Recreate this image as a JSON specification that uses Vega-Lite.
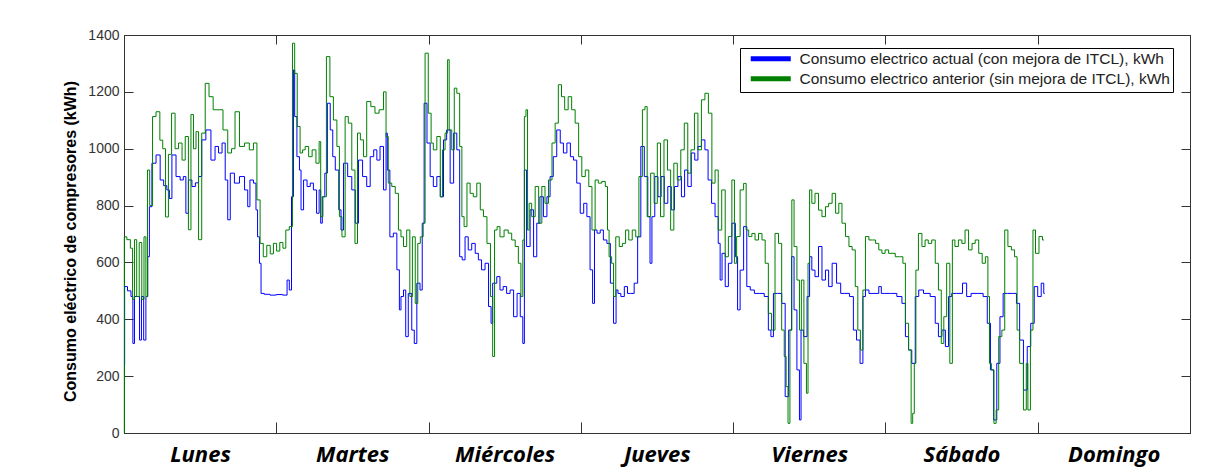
{
  "$schema": "https://vega.github.io/schema/vega-lite/v6.json",
  "autosize": "none",
  "width": 1066,
  "height": 398,
  "padding": {"left": 124, "top": 35, "right": 26, "bottom": 35},
  "background": "white",
  "config": {
    "view": {"stroke": "#333", "strokeWidth": 1},
    "axis": {"domainColor": "#333", "tickColor": "#333", "grid": false}
  },
  "datasets": {
    "actual": [
      {"h":0,"v":240},{"h":0.2,"v":515},{"h":0.9,"v":500},{"h":1.3,"v":480},{"h":1.5,"v":315},{"h":1.8,"v":480},{"h":2.3,"v":480},{"h":2.6,"v":327},{"h":2.9,"v":480},{"h":3.3,"v":327},{"h":3.6,"v":480},{"h":3.9,"v":620},{"h":4.1,"v":796},{"h":4.7,"v":949},{"h":5.4,"v":978},{"h":6.0,"v":890},{"h":6.5,"v":870},{"h":7.0,"v":855},{"h":7.3,"v":825},{"h":7.8,"v":978},{"h":8.6,"v":902},{"h":9.1,"v":890},{"h":9.6,"v":902},{"h":9.9,"v":773},{"h":10.4,"v":890},{"h":11.0,"v":867},{"h":11.5,"v":880},{"h":12.0,"v":902},{"h":12.5,"v":1031},{"h":13.3,"v":1066},{"h":14.1,"v":960},{"h":14.6,"v":1008},{"h":15.2,"v":985},{"h":15.7,"v":1020},{"h":16.2,"v":890},{"h":16.5,"v":750},{"h":17.0,"v":914},{"h":17.8,"v":879},{"h":18.6,"v":902},{"h":19.4,"v":855},{"h":19.6,"v":796},{"h":20.1,"v":890},{"h":20.7,"v":879},{"h":20.9,"v":785},{"h":21.2,"v":690},{"h":21.5,"v":597},{"h":21.7,"v":491},{"h":22.5,"v":488},{"h":23.5,"v":485},{"h":24.5,"v":487},{"h":25.5,"v":485},{"h":25.9,"v":538},{"h":26.2,"v":503},{"h":26.6,"v":831},{"h":26.8,"v":1277},
      {"h":27.0,"v":1113},{"h":27.5,"v":972},{"h":27.8,"v":925},{"h":28.0,"v":785},{"h":28.6,"v":890},{"h":29.1,"v":867},{"h":29.6,"v":879},{"h":30.1,"v":855},{"h":30.6,"v":773},{"h":30.9,"v":855},{"h":31.1,"v":738},{"h":31.4,"v":831},{"h":31.9,"v":914},{"h":32.2,"v":1160},{"h":32.8,"v":1066},{"h":33.0,"v":972},{"h":33.6,"v":925},{"h":34.1,"v":785},{"h":34.3,"v":714},{"h":34.9,"v":949},{"h":35.6,"v":902},{"h":36.2,"v":855},{"h":36.7,"v":738},{"h":37.2,"v":960},{"h":38.0,"v":902},{"h":38.5,"v":867},{"h":39.1,"v":972},{"h":39.6,"v":996},{"h":40.1,"v":960},{"h":40.6,"v":1008},{"h":41.2,"v":855},{"h":41.4,"v":1055},{"h":41.6,"v":925},{"h":42.2,"v":690},{"h":42.7,"v":703},{"h":43.3,"v":574},{"h":43.5,"v":433},{"h":43.8,"v":480},{"h":44.3,"v":503},{"h":44.5,"v":339},{"h":45.1,"v":491},{"h":45.6,"v":362},{"h":45.9,"v":315},{"h":46.4,"v":527},{"h":46.9,"v":503},{"h":47.1,"v":738},{"h":47.5,"v":1160},
      {"h":48.0,"v":1020},{"h":48.5,"v":902},{"h":49.0,"v":867},{"h":49.6,"v":902},{"h":50.1,"v":831},{"h":50.6,"v":1031},{"h":51.1,"v":1066},{"h":51.7,"v":879},{"h":52.2,"v":1055},{"h":52.7,"v":996},{"h":53.1,"v":620},{"h":53.5,"v":609},{"h":54.0,"v":690},{"h":54.5,"v":644},{"h":55.1,"v":667},{"h":55.6,"v":632},{"h":56.1,"v":609},{"h":56.6,"v":574},{"h":57.2,"v":597},{"h":57.7,"v":445},{"h":58.0,"v":386},{"h":58.2,"v":527},{"h":58.5,"v":527},{"h":59.0,"v":550},{"h":59.5,"v":503},{"h":60.0,"v":515},{"h":60.6,"v":491},{"h":61.1,"v":503},{"h":61.7,"v":409},{"h":62.2,"v":491},{"h":62.7,"v":409},{"h":63.0,"v":315},{"h":63.2,"v":925},{"h":63.7,"v":656},{"h":64.3,"v":785},{"h":64.8,"v":620},{"h":65.3,"v":738},{"h":65.8,"v":831},{"h":66.4,"v":761},{"h":66.9,"v":831},{"h":67.4,"v":902},{"h":67.9,"v":972},{"h":68.5,"v":1066},{"h":69.0,"v":1020},{"h":69.5,"v":985},{"h":70.1,"v":1020},{"h":70.6,"v":972},{"h":71.1,"v":960},{"h":71.6,"v":879},
      {"h":72.2,"v":773},{"h":72.7,"v":808},{"h":73.2,"v":761},{"h":73.7,"v":574},{"h":74.0,"v":456},{"h":74.3,"v":714},{"h":74.8,"v":703},{"h":75.3,"v":714},{"h":75.8,"v":679},{"h":76.4,"v":667},{"h":76.9,"v":527},{"h":77.4,"v":386},{"h":77.7,"v":503},{"h":78.0,"v":491},{"h":78.6,"v":480},{"h":79.1,"v":515},{"h":79.6,"v":491},{"h":80.1,"v":491},{"h":80.7,"v":527},{"h":81.2,"v":690},{"h":81.7,"v":1008},{"h":82.3,"v":902},{"h":82.8,"v":761},{"h":83.0,"v":597},{"h":83.4,"v":761},{"h":83.9,"v":902},{"h":84.4,"v":831},{"h":84.9,"v":902},{"h":85.4,"v":808},{"h":86.0,"v":867},{"h":86.5,"v":785},{"h":87.0,"v":867},{"h":87.6,"v":902},{"h":88.1,"v":831},{"h":88.6,"v":925},{"h":89.1,"v":867},{"h":89.7,"v":985},{"h":90.2,"v":960},{"h":90.7,"v":1008},{"h":91.3,"v":1031},{"h":91.8,"v":996},{"h":92.3,"v":890},{"h":92.9,"v":808},{"h":93.4,"v":761},{"h":93.9,"v":667},
      {"h":94.0,"v":538},{"h":94.5,"v":632},{"h":95.0,"v":515},{"h":95.5,"v":597},{"h":96.1,"v":738},{"h":96.6,"v":620},{"h":96.8,"v":433},{"h":97.4,"v":573},{"h":97.9,"v":726},{"h":98.4,"v":515},{"h":99.0,"v":503},{"h":99.7,"v":491},{"h":100.5,"v":491},{"h":101.3,"v":480},{"h":101.8,"v":362},{"h":102.1,"v":339},{"h":102.6,"v":491},{"h":103.4,"v":491},{"h":103.9,"v":456},{"h":104.5,"v":128},{"h":105.0,"v":362},{"h":105.4,"v":620},{"h":105.8,"v":433},{"h":106.3,"v":222},{"h":106.6,"v":46},{"h":106.8,"v":362},{"h":107.4,"v":339},{"h":107.9,"v":480},{"h":108.2,"v":620},{"h":108.6,"v":573},{"h":109.2,"v":550},{"h":109.7,"v":656},{"h":110.3,"v":538},{"h":110.8,"v":573},{"h":111.3,"v":515},{"h":111.9,"v":597},{"h":112.7,"v":527},{"h":113.2,"v":491},{"h":114.0,"v":491},{"h":114.7,"v":480},{"h":115.2,"v":362},{"h":115.7,"v":327},{"h":116.3,"v":245},{"h":116.6,"v":480},{"h":117.1,"v":503},{"h":117.7,"v":491},{"h":118.7,"v":491},{"h":119.2,"v":515},{"h":119.5,"v":491},{"h":120.3,"v":491},{"h":121.3,"v":491},{"h":122.3,"v":480},{"h":122.9,"v":456},{"h":123.4,"v":339},{"h":123.9,"v":292},{"h":124.4,"v":245},{"h":125.0,"v":480},{"h":125.5,"v":503},{"h":126.5,"v":491},{"h":127.6,"v":480},{"h":128.1,"v":386},{"h":128.6,"v":339},{"h":129.2,"v":362},{"h":129.7,"v":304},{"h":130.2,"v":480},{"h":130.7,"v":491},{"h":131.8,"v":491},{"h":132.5,"v":527},{"h":133.1,"v":480},{"h":133.9,"v":491},{"h":135.0,"v":491},{"h":135.8,"v":480},{"h":136.3,"v":386},{"h":136.8,"v":222},{"h":137.3,"v":46},{"h":137.8,"v":245},{"h":138.3,"v":409},{"h":138.8,"v":491},{"h":139.7,"v":491},{"h":140.4,"v":491},{"h":140.9,"v":456},{"h":141.4,"v":327},{"h":142.1,"v":151},{"h":142.6,"v":304},{"h":143.2,"v":386},{"h":143.7,"v":515},{"h":144.3,"v":480},{"h":144.8,"v":527},{"h":145.1,"v":491}
    ],
    "anterior": [
      {"h":0,"v":0},{"h":0.1,"v":690},{"h":0.8,"v":680},{"h":1.2,"v":650},{"h":1.5,"v":470},{"h":1.8,"v":680},{"h":2.2,"v":480},{"h":2.6,"v":670},{"h":3.0,"v":470},{"h":3.3,"v":690},{"h":3.6,"v":480},{"h":3.8,"v":925},{"h":4.3,"v":800},{"h":4.7,"v":1113},{"h":5.4,"v":1130},{"h":5.9,"v":1030},{"h":6.3,"v":1000},{"h":6.8,"v":760},{"h":7.2,"v":980},{"h":7.8,"v":1125},{"h":8.3,"v":1000},{"h":8.9,"v":1020},{"h":9.4,"v":960},{"h":9.9,"v":1043},{"h":10.4,"v":715},{"h":10.7,"v":1120},{"h":11.2,"v":1000},{"h":11.5,"v":1060},{"h":12.0,"v":680},{"h":12.5,"v":1055},{"h":13.1,"v":1230},{"h":13.7,"v":1183},{"h":14.4,"v":1137},{"h":15.2,"v":1137},{"h":16.0,"v":1066},{"h":16.7,"v":985},{"h":17.2,"v":1000},{"h":17.8,"v":1130},{"h":18.6,"v":1008},{"h":19.4,"v":1020},{"h":20.1,"v":996},{"h":20.7,"v":1020},{"h":21.2,"v":820},{"h":21.7,"v":667},{"h":22.2,"v":620},{"h":22.8,"v":660},{"h":23.3,"v":630},{"h":23.8,"v":667},{"h":24.3,"v":640},{"h":24.8,"v":670},{"h":25.3,"v":650},{"h":25.7,"v":714},{"h":26.4,"v":726},
      {"h":26.7,"v":1371},{"h":27.1,"v":1265},{"h":27.5,"v":1078},{"h":28.0,"v":985},{"h":28.3,"v":996},{"h":28.8,"v":1008},{"h":29.4,"v":972},{"h":29.9,"v":996},{"h":30.6,"v":949},{"h":30.9,"v":1025},{"h":31.1,"v":761},{"h":31.6,"v":831},{"h":32.2,"v":1324},{"h":32.7,"v":1183},{"h":33.3,"v":1101},{"h":33.8,"v":1008},{"h":34.1,"v":761},{"h":34.6,"v":690},{"h":35.1,"v":1113},{"h":35.6,"v":1090},{"h":36.2,"v":925},{"h":36.6,"v":667},{"h":37.0,"v":1055},{"h":37.5,"v":1031},{"h":38.0,"v":972},{"h":38.5,"v":1166},{"h":39.3,"v":1148},{"h":39.8,"v":1125},{"h":40.6,"v":1137},{"h":41.2,"v":1200},{"h":41.4,"v":1043},{"h":41.9,"v":879},{"h":42.5,"v":867},{"h":43.0,"v":843},{"h":43.5,"v":714},{"h":43.8,"v":690},{"h":44.3,"v":656},{"h":44.8,"v":714},{"h":45.3,"v":480},{"h":45.6,"v":690},{"h":46.2,"v":456},{"h":46.4,"v":667},{"h":47.0,"v":690},{"h":47.3,"v":738},{"h":47.6,"v":1336},
      {"h":48.3,"v":1125},{"h":48.5,"v":1020},{"h":49.0,"v":996},{"h":49.6,"v":1043},{"h":50.1,"v":831},{"h":50.3,"v":996},{"h":50.9,"v":1055},{"h":51.1,"v":1313},{"h":51.4,"v":1066},{"h":51.9,"v":996},{"h":52.2,"v":1213},{"h":52.7,"v":1195},{"h":53.1,"v":1008},{"h":53.4,"v":761},{"h":53.8,"v":726},{"h":54.3,"v":879},{"h":54.8,"v":843},{"h":55.3,"v":831},{"h":55.9,"v":879},{"h":56.4,"v":785},{"h":56.9,"v":761},{"h":57.5,"v":667},{"h":58.0,"v":480},{"h":58.2,"v":269},{"h":58.6,"v":714},{"h":59.0,"v":726},{"h":59.5,"v":690},{"h":60.3,"v":714},{"h":60.8,"v":703},{"h":61.4,"v":679},{"h":61.9,"v":656},{"h":62.4,"v":597},{"h":62.7,"v":480},{"h":63.0,"v":679},{"h":63.2,"v":1113},{"h":63.5,"v":1137},{"h":63.7,"v":714},{"h":64.0,"v":808},{"h":64.5,"v":761},{"h":65.1,"v":867},{"h":65.6,"v":738},{"h":66.1,"v":867},{"h":66.6,"v":808},{"h":67.2,"v":890},{"h":67.7,"v":1020},{"h":68.2,"v":1090},{"h":68.7,"v":1225},{"h":69.2,"v":1183},{"h":69.7,"v":1137},{"h":70.3,"v":1183},{"h":70.8,"v":1137},{"h":71.4,"v":1090},{"h":71.9,"v":972},
      {"h":72.4,"v":902},{"h":73.0,"v":925},{"h":73.5,"v":867},{"h":74.0,"v":714},{"h":74.5,"v":890},{"h":75.0,"v":879},{"h":75.6,"v":885},{"h":76.1,"v":867},{"h":76.3,"v":714},{"h":76.6,"v":620},{"h":77.1,"v":597},{"h":77.2,"v":480},{"h":77.8,"v":690},{"h":78.3,"v":656},{"h":78.8,"v":667},{"h":79.3,"v":714},{"h":79.8,"v":679},{"h":80.4,"v":714},{"h":80.9,"v":690},{"h":81.4,"v":902},{"h":82.0,"v":1137},{"h":82.2,"v":1148},{"h":82.7,"v":761},{"h":83.3,"v":914},{"h":83.8,"v":808},{"h":84.3,"v":1020},{"h":84.8,"v":761},{"h":85.4,"v":1031},{"h":85.9,"v":925},{"h":86.4,"v":714},{"h":86.9,"v":949},{"h":87.5,"v":890},{"h":88.0,"v":996},{"h":88.6,"v":1090},{"h":89.1,"v":914},{"h":89.6,"v":996},{"h":90.2,"v":1125},{"h":90.7,"v":996},{"h":91.3,"v":1172},{"h":91.8,"v":1195},{"h":92.4,"v":1125},{"h":92.9,"v":879},{"h":93.4,"v":925},{"h":93.9,"v":714},
      {"h":94.5,"v":855},{"h":95.0,"v":620},{"h":95.5,"v":691},{"h":96.1,"v":890},{"h":96.3,"v":597},{"h":96.8,"v":691},{"h":97.4,"v":855},{"h":97.9,"v":878},{"h":98.2,"v":714},{"h":98.7,"v":691},{"h":99.2,"v":702},{"h":99.7,"v":679},{"h":100.3,"v":702},{"h":100.8,"v":679},{"h":101.3,"v":597},{"h":101.8,"v":421},{"h":102.3,"v":362},{"h":102.9,"v":702},{"h":103.4,"v":667},{"h":103.9,"v":362},{"h":104.2,"v":269},{"h":104.5,"v":163},{"h":104.8,"v":34},{"h":105.1,"v":362},{"h":105.4,"v":820},{"h":105.8,"v":656},{"h":106.3,"v":538},{"h":106.6,"v":362},{"h":106.9,"v":538},{"h":107.4,"v":245},{"h":107.7,"v":140},{"h":107.9,"v":597},{"h":108.2,"v":855},{"h":108.6,"v":808},{"h":109.2,"v":843},{"h":109.7,"v":784},{"h":110.3,"v":761},{"h":110.8,"v":796},{"h":111.3,"v":808},{"h":111.9,"v":843},{"h":112.4,"v":773},{"h":112.9,"v":808},{"h":113.4,"v":738},{"h":114.0,"v":691},{"h":114.5,"v":656},{"h":115.0,"v":644},{"h":115.5,"v":515},{"h":115.8,"v":362},{"h":116.3,"v":292},{"h":116.6,"v":503},{"h":117.1,"v":691},{"h":117.7,"v":679},{"h":118.2,"v":679},{"h":118.7,"v":667},{"h":119.2,"v":644},{"h":119.7,"v":632},{"h":120.2,"v":644},{"h":120.8,"v":632},{"h":121.3,"v":632},{"h":121.8,"v":620},{"h":122.6,"v":620},{"h":122.9,"v":597},{"h":123.4,"v":386},{"h":123.9,"v":292},{"h":124.2,"v":34},{"h":124.4,"v":69},{"h":124.7,"v":245},{"h":124.9,"v":573},{"h":125.5,"v":702},{"h":126.0,"v":656},{"h":126.5,"v":679},{"h":127.0,"v":667},{"h":127.6,"v":679},{"h":128.1,"v":597},{"h":128.6,"v":503},{"h":129.0,"v":315},{"h":129.4,"v":409},{"h":129.9,"v":597},{"h":130.4,"v":245},{"h":130.7,"v":679},{"h":131.2,"v":656},{"h":131.8,"v":679},{"h":132.3,"v":667},{"h":132.8,"v":714},{"h":133.4,"v":644},{"h":133.9,"v":667},{"h":134.4,"v":679},{"h":135.0,"v":632},{"h":135.5,"v":597},{"h":136.0,"v":620},{"h":136.3,"v":480},{"h":136.5,"v":245},{"h":136.9,"v":222},{"h":137.3,"v":34},{"h":137.6,"v":81},{"h":138.1,"v":339},{"h":138.6,"v":362},{"h":139.0,"v":714},{"h":139.6,"v":656},{"h":140.1,"v":644},{"h":140.6,"v":620},{"h":140.9,"v":362},{"h":141.4,"v":245},{"h":142.1,"v":81},{"h":142.3,"v":245},{"h":142.6,"v":81},{"h":143.1,"v":362},{"h":143.4,"v":714},{"h":143.9,"v":632},{"h":144.5,"v":691},{"h":145.0,"v":679}
    ]
  },
  "layer": [
    {
      "data": {"name": "actual"},
      "mark": {"type": "line", "strokeWidth": 1, "interpolate": "step"},
      "encoding": {
        "x": {
          "field": "h", "type": "quantitative",
          "scale": {"domain": [0, 168], "nice": false, "zero": false},
          "axis": {
            "orient": "bottom", "title": null,
            "values": [0, 24, 48, 72, 96, 120, 144, 168],
            "labelExpr": "['Lunes','Martes','Miércoles','Jueves','Viernes','Sábado','Domingo',''][round(datum.value/24)]",
            "labelOffset": 76, "labelFlush": false, "labelBound": false, "labelOverlap": false,
            "tickSize": -11, "labelPadding": 22,
            "labelFont": "Open Sans", "labelFontSize": 22, "labelFontWeight": "bold", "labelFontStyle": "italic", "labelColor": "#000"
          }
        },
        "y": {
          "field": "v", "type": "quantitative",
          "scale": {"domain": [0, 1400], "nice": false},
          "axis": {
            "orient": "left",
            "values": [0, 200, 400, 600, 800, 1000, 1200, 1400],
            "format": "d", "tickSize": -9, "labelPadding": 14,
            "labelFont": "Liberation Sans", "labelFontSize": 14, "labelColor": "#333",
            "title": "Consumo eléctrico de compresores (kWh)",
            "titleFont": "Liberation Sans", "titleFontSize": 16, "titleFontWeight": "bold", "titleColor": "#000",
            "titleX": -54, "titleY": 206, "titleBaseline": "middle", "titleAlign": "center", "titleAngle": -90
          }
        },
        "color": {
          "datum": "Consumo electrico actual (con mejora de ITCL), kWh",
          "type": "nominal",
          "scale": {
            "domain": ["Consumo electrico actual (con mejora de ITCL), kWh", "Consumo electrico anterior (sin mejora de ITCL), kWh"],
            "range": ["#0000ff", "#008000"]
          },
          "legend": {
            "title": null, "orient": "none", "legendX": 616, "legendY": 13,
            "strokeColor": "#000", "fillColor": "#fff", "padding": 3,
            "symbolType": "M0,0H8", "symbolSize": 100, "symbolStrokeWidth": 5,
            "labelFont": "Liberation Sans", "labelFontSize": 15.5, "labelColor": "#222",
            "labelOffset": 41, "rowPadding": -1, "labelLimit": 500
          }
        }
      }
    },
    {
      "data": {"name": "anterior"},
      "mark": {"type": "line", "strokeWidth": 1, "interpolate": "step"},
      "encoding": {
        "x": {
          "field": "h", "type": "quantitative",
          "axis": {"orient": "top", "title": null, "values": [0, 24, 48, 72, 96, 120, 144, 168], "labels": false, "tickSize": -9}
        },
        "y": {
          "field": "v", "type": "quantitative",
          "axis": {"orient": "right", "title": null, "values": [0, 200, 400, 600, 800, 1000, 1200, 1400], "labels": false, "tickSize": -9}
        },
        "color": {"datum": "Consumo electrico anterior (sin mejora de ITCL), kWh", "type": "nominal"}
      }
    }
  ],
  "resolve": {"axis": {"x": "independent", "y": "independent"}}
}
